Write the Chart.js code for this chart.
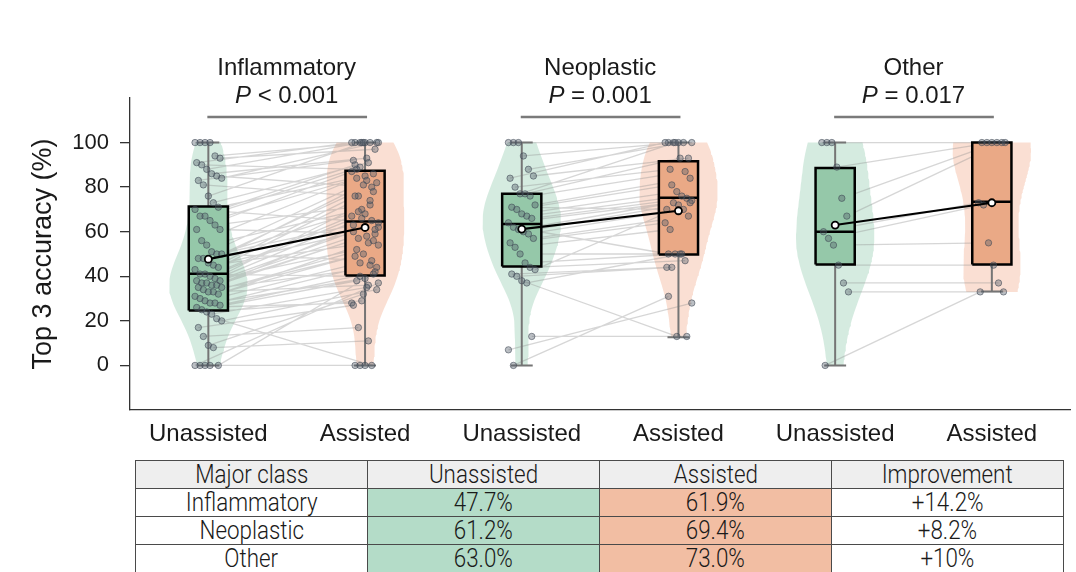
<!DOCTYPE html>
<html>
<head>
<meta charset="utf-8">
<title>Top 3 accuracy by major class</title>
<script src="https://cdn.jsdelivr.net/npm/chart.js@4.4.1/dist/chart.umd.min.js"></script>
<style>
  html, body { margin: 0; padding: 0; background: #fff; }
  body { width: 1076px; height: 572px; overflow: hidden; position: relative; }
  #chart { position: absolute; left: 0; top: 0; }
  #summary { position: absolute; left: 135px; top: 460px; width: 929px; border-collapse: collapse; table-layout: fixed;
    font-family: Roboto, "Liberation Sans", sans-serif; font-weight: 300; font-size: 26px; color: #1a1a1a; }
  #summary th, #summary td { border: 1px solid #4a4a4a; height: 27px; padding: 0; text-align: center; font-weight: 300;
    line-height: 27px; white-space: nowrap; overflow: hidden; }
  #summary span { display: inline-block; transform: scaleX(0.86); }
  #summary th { background: #eeeeee; }
  #summary td.unassisted { background: #b4dcc8; }
  #summary td.assisted { background: #f2bea3; }
</style>
</head>
<body>
<canvas id="chart" width="1076" height="455"></canvas>
<table id="summary"></table>
<script>
const groups = ['Inflammatory', 'Neoplastic', 'Other'];
const pValues = ['< 0.001', '= 0.001', '= 0.017'];
const xPositions = [0, 1, 2, 3, 4, 5];
const xTickLabels = ['Unassisted', 'Assisted', 'Unassisted', 'Assisted', 'Unassisted', 'Assisted'];
const yTicks = [0, 20, 40, 60, 80, 100];

// per-reader top 3 accuracy, same reader order in both arrays of a class
const inflamUnassisted = [100, 100, 100, 100, 94, 93, 91, 90, 88, 86,
  85, 84, 83, 81, 76, 73, 71, 70, 67, 67,
  65, 63, 61, 61, 56, 54, 51, 50, 50, 48,
  48, 46, 45, 44, 43, 41, 41, 40, 39, 38,
  38, 37, 37, 36, 36, 35, 35, 34, 33, 33,
  32, 31, 30, 29, 28, 28, 27, 26, 25, 24,
  23, 21, 20, 17, 13, 9, 8, 0, 0, 0,
  0, 0];
const inflamAssisted = [100, 100, 100, 100, 100, 97, 100, 88, 100, 93,
  80, 100, 92, 76, 100, 91, 86, 64, 90, 89,
  85, 72, 59, 87, 84, 70, 83, 47, 82, 63,
  69, 81, 55, 78, 62, 76, 40, 68, 74, 61,
  67, 52, 66, 58, 65, 44, 60, 57, 50, 36,
  56, 54, 49, 46, 39, 45, 42, 28, 38, 29,
  35, 0, 34, 27, 17, 32, 11, 41, 37, 0,
  0, 0];
const neoUnassisted = [100, 100, 100, 94, 88, 85, 84, 80, 77, 77,
  76, 72, 71, 70, 68, 67, 66, 64, 62, 61,
  60, 59, 57, 55, 53, 50, 46, 44, 43, 41,
  40, 38, 37, 13, 7, 0];
const neoAssisted = [100, 100, 100, 100, 100, 93, 100, 88, 100, 93,
  87, 84, 70, 81, 78, 76, 75, 74, 50, 73,
  72, 70, 67, 64, 61, 50, 50, 47, 73, 44,
  44, 13, 50, 13, 28, 31];
const otherUnassisted = [100, 100, 100, 89, 75, 67, 60, 57, 54, 45, 37, 33, 0];
const otherAssisted = [100, 100, 100, 100, 100, 100, 73, 72, 55, 45, 37, 33, 33];

// box statistics: [low whisker, q1, median, q3, high whisker]
const boxUnassisted = [[0, 24.7, 41.1, 71.3, 100], [0, 44.4, 63.5, 77.0, 100], [0, 45.3, 60.0, 88.6, 100]];
const boxAssisted = [[0, 40.4, 64.6, 87.4, 100], [12.7, 49.8, 75.2, 91.6, 100], [33.2, 45.3, 73.5, 100, 100]];
const meanUnassisted = [47.7, 61.2, 63.0];
const meanAssisted = [61.9, 69.4, 73.0];
const improvement = ['+14.2%', '+8.2%', '+10%'];

const unassistedSets = [inflamUnassisted, neoUnassisted, otherUnassisted];
const assistedSets = [inflamAssisted, neoAssisted, otherAssisted];

const VIOLIN_HALF = 0.25;
const BOX_HALF = 0.125;
const CAP_HALF = 0.07;
const JITTER = 0.17;
const BRACKET_Y = 111.5;
const FONT = '"Liberation Sans", Arial, sans-serif';

const colors = {
    unassisted: { violin: 'rgba(125, 192, 158, 0.32)', box: '#95c8a9' },
    assisted: { violin: 'rgba(240, 160, 125, 0.34)', box: '#eaa986' }
};

function jitter(i, salt) {
    return (((i * 37 + salt * 11) % 17) / 16 - 0.5) * JITTER;
}

// gaussian kde outline, scaled so every violin has the same max width, cut at the data range
function violinOutline(values, cx) {
    const n = values.length;
    const mean = values.reduce((s, v) => s + v, 0) / n;
    const sd = Math.sqrt(values.reduce((s, v) => s + (v - mean) ** 2, 0) / (n - 1));
    const bw = sd * Math.pow(n, -0.2);
    const lo = Math.min(...values), hi = Math.max(...values);
    const ys = [];
    for (let k = 0; k <= 80; k++) ys.push(lo + (hi - lo) * k / 80);
    const dens = ys.map(y => values.reduce((s, v) => s + Math.exp(-0.5 * ((y - v) / bw) ** 2), 0));
    const peak = Math.max(...dens);
    const right = ys.map((y, k) => ({ x: cx + VIOLIN_HALF * dens[k] / peak, y }));
    const left = ys.map((y, k) => ({ x: cx - VIOLIN_HALF * dens[k] / peak, y })).reverse();
    return right.concat(left);
}

function shapeDataset(points, fill, stroke, width, order) {
    return {
        data: points, showLine: true, fill: 'shape', backgroundColor: fill,
        borderColor: stroke || 'rgba(0,0,0,0)', borderWidth: width, borderJoinStyle: 'miter',
        pointRadius: 0, pointHoverRadius: 0, order: order
    };
}

function segmentDataset(pairs, color, width, order) {
    const data = [];
    pairs.forEach(p => { data.push(p[0], p[1], { x: NaN, y: NaN }); });
    return {
        data: data, showLine: true, spanGaps: false, fill: false, borderColor: color,
        borderWidth: width, pointRadius: 0, pointHoverRadius: 0, order: order
    };
}

const datasets = [];
groups.forEach((name, g) => {
    const xu = xPositions[2 * g], xa = xPositions[2 * g + 1];
    const u = unassistedSets[g], a = assistedSets[g];

    datasets.push(shapeDataset(violinOutline(u, xu), colors.unassisted.violin, null, 0, 6));
    datasets.push(shapeDataset(violinOutline(a, xa), colors.assisted.violin, null, 0, 6));

    const pairLines = u.map((v, i) => [{ x: xu + jitter(i, 0), y: v }, { x: xa + jitter(i, 3), y: a[i] }]);
    datasets.push(segmentDataset(pairLines, 'rgba(140, 140, 140, 0.36)', 1.3, 5));

    const whiskers = [];
    [[xu, boxUnassisted[g]], [xa, boxAssisted[g]]].forEach(([cx, b]) => {
        whiskers.push([{ x: cx, y: b[0] }, { x: cx, y: b[4] }]);
        whiskers.push([{ x: cx - CAP_HALF, y: b[0] }, { x: cx + CAP_HALF, y: b[0] }]);
        whiskers.push([{ x: cx - CAP_HALF, y: b[4] }, { x: cx + CAP_HALF, y: b[4] }]);
    });
    datasets.push(segmentDataset(whiskers, '#757575', 2, 4));

    const medians = [];
    [[xu, boxUnassisted[g], colors.unassisted.box], [xa, boxAssisted[g], colors.assisted.box]].forEach(([cx, b, col]) => {
        datasets.push(shapeDataset([
            { x: cx - BOX_HALF, y: b[1] }, { x: cx + BOX_HALF, y: b[1] },
            { x: cx + BOX_HALF, y: b[3] }, { x: cx - BOX_HALF, y: b[3] },
            { x: cx - BOX_HALF, y: b[1] }
        ], col, '#000', 2.5, 3));
        medians.push([{ x: cx - BOX_HALF, y: b[2] }, { x: cx + BOX_HALF, y: b[2] }]);
    });
    datasets.push(segmentDataset(medians, '#000', 2.5, 2));

    [[u, xu, 0], [a, xa, 3]].forEach(([vals, cx, salt]) => {
        datasets.push({
            data: vals.map((v, i) => ({ x: cx + jitter(i, salt), y: v })),
            pointRadius: 3.2, pointBackgroundColor: 'rgba(85, 95, 108, 0.4)',
            pointBorderColor: 'rgba(60, 70, 82, 0.55)', pointBorderWidth: 1, order: 1
        });
    });

    datasets.push({
        data: [{ x: xu, y: meanUnassisted[g] }, { x: xa, y: meanAssisted[g] }],
        showLine: true, borderColor: '#000', borderWidth: 2.2,
        pointRadius: 3.5, pointBackgroundColor: '#fff', pointBorderColor: '#000', pointBorderWidth: 1.8, order: 0
    });
});

const headerPlugin = {
    id: 'groupHeaders',
    afterDraw(chart) {
        const { ctx, chartArea, scales: { x, y } } = chart;
        ctx.save();
        ctx.fillStyle = '#1a1a1a';
        ctx.textBaseline = 'middle';
        groups.forEach((name, g) => {
            const x0 = x.getPixelForValue(xPositions[2 * g]);
            const x1 = x.getPixelForValue(xPositions[2 * g + 1]);
            const cx = (x0 + x1) / 2;
            ctx.font = `24px ${FONT}`;
            ctx.textAlign = 'center';
            ctx.fillText(name, cx, chartArea.top - 30);

            const rest = ' ' + pValues[g];
            ctx.font = `italic 24px ${FONT}`;
            const wP = ctx.measureText('P').width;
            ctx.font = `24px ${FONT}`;
            const wRest = ctx.measureText(rest).width;
            const start = cx - (wP + wRest) / 2;
            ctx.textAlign = 'left';
            ctx.font = `italic 24px ${FONT}`;
            ctx.fillText('P', start, chartArea.top - 2);
            ctx.font = `24px ${FONT}`;
            ctx.fillText(rest, start + wP, chartArea.top - 2);

            const by = y.getPixelForValue(BRACKET_Y);
            ctx.strokeStyle = '#7a7a7a';
            ctx.lineWidth = 2.5;
            ctx.beginPath();
            ctx.moveTo(x0 - 1, by);
            ctx.lineTo(x1 + 2, by);
            ctx.stroke();
        });
        ctx.restore();
    }
};

new Chart(document.getElementById('chart'), {
    type: 'scatter',
    data: { datasets: datasets },
    options: {
        responsive: false,
        animation: false,
        events: [],
        layout: { padding: { top: 98, right: 1, left: 0, bottom: 0 } },
        plugins: { legend: { display: false }, tooltip: { enabled: false } },
        scales: {
            x: {
                type: 'linear', min: -0.5, max: 5.5,
                afterBuildTicks: scale => { scale.ticks = xPositions.map(v => ({ value: v })); },
                afterFit: scale => { scale.height = 45; },
                ticks: {
                    callback: value => xTickLabels[xPositions.indexOf(value)],
                    color: '#1a1a1a', font: { family: FONT, size: 24 }, padding: 2, maxRotation: 0, autoSkip: false
                },
                grid: { display: false },
                border: { display: true, color: '#333', width: 1.3 }
            },
            y: {
                type: 'linear', min: -20, max: 120,
                afterBuildTicks: scale => { scale.ticks = yTicks.map(v => ({ value: v })); },
                afterFit: scale => { scale.width = 130; },
                ticks: { color: '#1a1a1a', font: { family: FONT, size: 22 }, padding: 11 },
                grid: { drawOnChartArea: false, drawTicks: true, tickLength: 10, color: '#333', lineWidth: 1.3 },
                border: { display: true, color: '#333', width: 1.3 },
                title: {
                    display: true, text: 'Top 3 accuracy (%)', color: '#1a1a1a',
                    font: { family: FONT, size: 27 }, padding: { top: 27, bottom: 0 }
                }
            }
        }
    },
    plugins: [headerPlugin]
});

const table = document.getElementById('summary');
let rows = '<tr><th><span>Major class</span></th><th><span>Unassisted</span></th>' +
    '<th><span>Assisted</span></th><th><span>Improvement</span></th></tr>';
groups.forEach((name, g) => {
    rows += `<tr><td><span>${name}</span></td><td class="unassisted"><span>${meanUnassisted[g].toFixed(1)}%</span></td>` +
        `<td class="assisted"><span>${meanAssisted[g].toFixed(1)}%</span></td><td><span>${improvement[g]}</span></td></tr>`;
});
table.innerHTML = rows;
</script>
</body>
</html>
